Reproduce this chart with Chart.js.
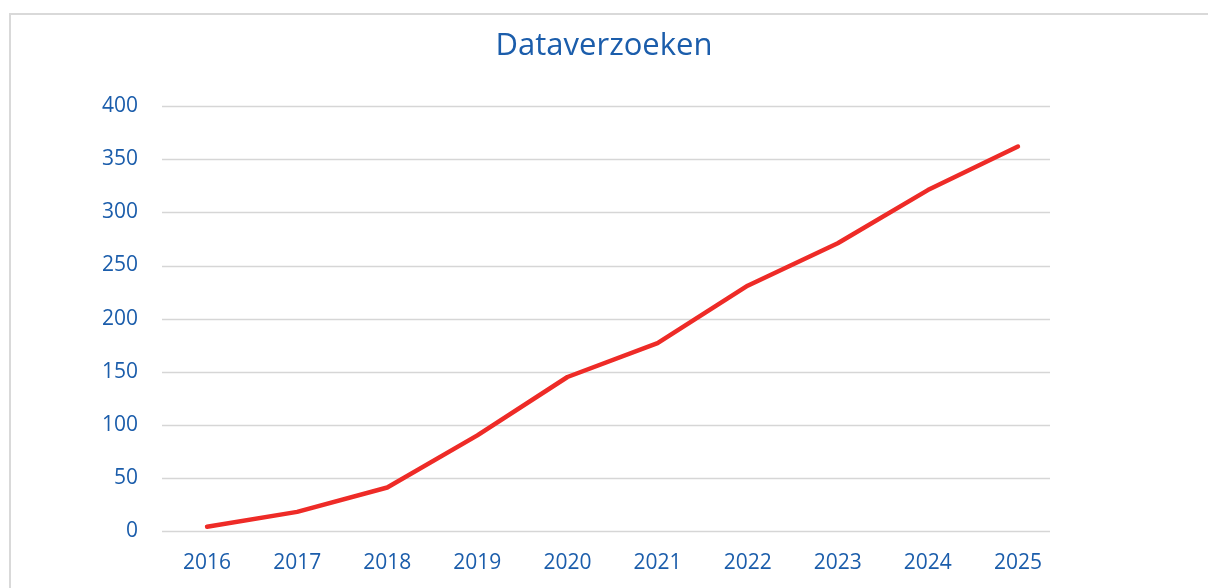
<!DOCTYPE html>
<html>
<head>
<meta charset="utf-8">
<script src="https://cdn.jsdelivr.net/npm/chart.js@4/dist/chart.umd.min.js"></script>
<style>
  html, body { margin: 0; padding: 0; background: #ffffff; overflow: hidden; }
  #wrap { position: relative; width: 1208px; height: 588px; }
  #frame { position: absolute; left: 9px; top: 13px; width: 1400px; height: 800px; border: 2px solid #d9d9d9; box-sizing: border-box; }
  canvas { position: absolute; left: 0; top: 0; }
</style>
</head>
<body>
<div id="wrap">
  <div id="frame"></div>
  <canvas id="c" width="1208" height="588"></canvas>
</div>
<script>
const title = "Dataverzoeken";
const categories = ["2016", "2017", "2018", "2019", "2020", "2021", "2022", "2023", "2024", "2025"];
const values = [4, 18, 41, 90, 145, 177, 231, 271, 321, 362];
const yTicks = [0, 50, 100, 150, 200, 250, 300, 350, 400];

const BLUE = "#1b5dab";
const FONT = "'Open Sans', sans-serif";

const gridPlugin = {
  id: 'customGrid',
  beforeDatasetsDraw(chart) {
    const y = chart.scales.y;
    const ctx = chart.ctx;
    ctx.save();
    ctx.strokeStyle = "#d6d6d6";
    ctx.lineWidth = 1.5;
    yTicks.forEach(v => {
      const py = Math.round(y.getPixelForValue(v)) + 0.5;
      ctx.beginPath();
      ctx.moveTo(162, py);
      ctx.lineTo(1050, py);
      ctx.stroke();
    });
    ctx.restore();
  }
};

new Chart(document.getElementById('c'), {
  type: 'line',
  data: {
    labels: categories,
    datasets: [{
      data: values,
      borderColor: "#ee2b27",
      borderWidth: 4.5,
      pointRadius: 0,
      borderCapStyle: 'round',
      borderJoinStyle: 'round',
      tension: 0,
      fill: false
    }]
  },
  options: {
    responsive: false,
    animation: false,
    devicePixelRatio: 1,
    layout: { padding: 0 },
    plugins: {
      legend: { display: false },
      tooltip: { enabled: false },
      title: {
        display: true,
        text: title,
        color: BLUE,
        font: { family: FONT, size: 31, weight: 'normal' },
        padding: { top: 28, bottom: 41 }
      }
    },
    scales: {
      x: {
        type: 'category',
        offset: true,
        grid: { display: false, drawTicks: false },
        border: { display: false },
        ticks: { color: BLUE, font: { family: FONT, size: 21 }, padding: 19, maxRotation: 0, autoSkip: false },
        afterFit(s) { s.height = 57; }
      },
      y: {
        min: 0, max: 400,
        afterBuildTicks(s) { s.ticks = yTicks.map(v => ({ value: v })); },
        grid: { display: false, drawTicks: false },
        border: { display: false },
        ticks: { color: BLUE, font: { family: FONT, size: 21 }, padding: 24 },
        afterFit(s) { s.width = 162; }
      },
      spacer: {
        position: 'right',
        display: true,
        grid: { display: false, drawTicks: false },
        border: { display: false },
        ticks: { display: false },
        afterFit(s) { s.width = 145; }
      }
    }
  },
  plugins: [gridPlugin]
});
</script>
</body>
</html>
